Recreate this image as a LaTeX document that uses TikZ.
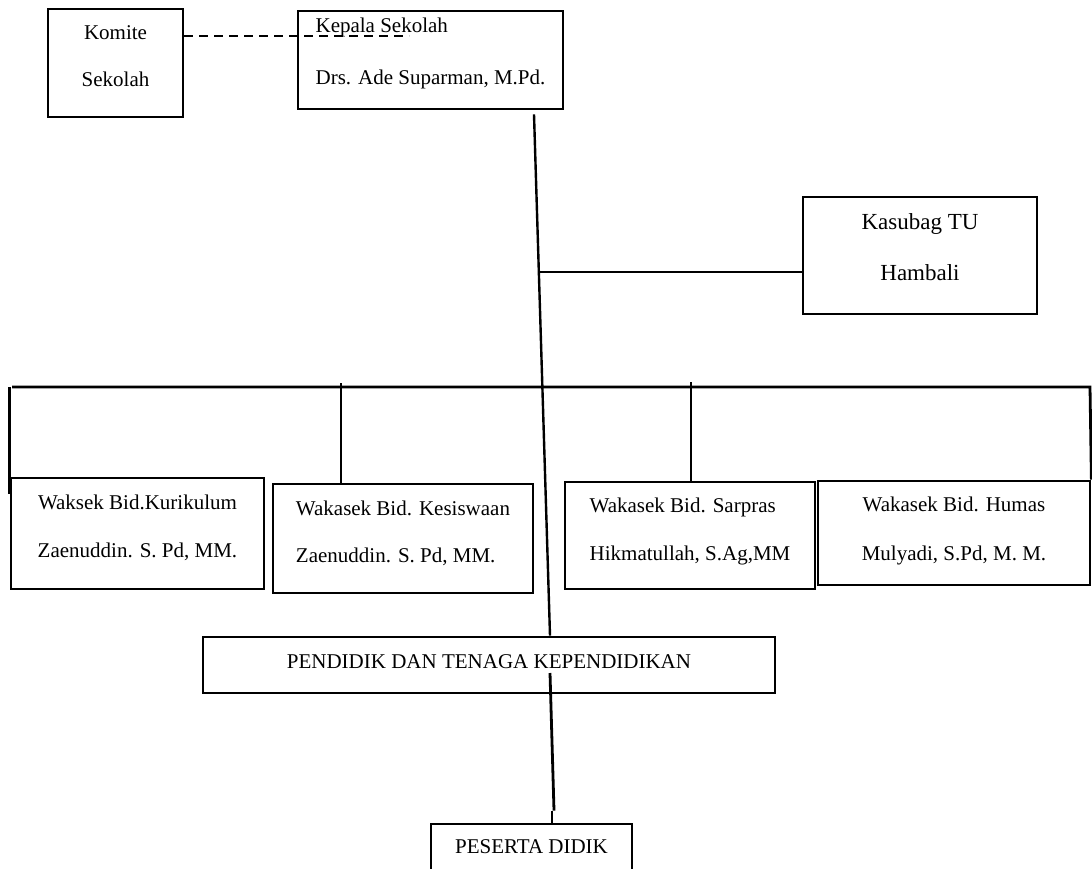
\documentclass[tikz,border=0pt]{standalone}
\usepackage{fontspec}
\setmainfont{Liberation Serif}
\usepackage{tikz}
\usetikzlibrary{calc}

\begin{document}
\begin{tikzpicture}[
  x=1pt, y=-1pt,
  box/.style={draw, line width=2.8pt, inner sep=0pt, align=center,
    font=\fontsize{21}{48}\selectfont, text depth=14pt},
  lbox/.style={box, align=left},
  wide/.style={draw, line width=2.8pt, inner sep=0pt, align=center,
    font=\fontsize{21}{25}\selectfont, text depth=6pt},
  bus/.style={line width=2.8pt},
  drop/.style={line width=2.6pt},
  trunk/.style={line width=2.4pt},
  link/.style={line width=1.7pt},
  dashline/.style={line width=2.2pt, dash pattern=on 9pt off 6pt}
]
  \useasboundingbox (0,0) rectangle (1092,868);

  % top row
  \node[box, minimum width=135, minimum height=108, font=\fontsize{21}{47}\selectfont, text depth=13pt]
    (komite) at (115.5,63) {Komite\\Sekolah};
  \node[lbox, minimum width=265, minimum height=98, font=\fontsize{21}{52}\selectfont, text depth=18pt]
    (kepala) at (430.5,60) {Kepala Sekolah\\Drs. Ade Suparman, M.Pd.};
  \node[box, minimum width=234, minimum height=117, font=\fontsize{23}{51}\selectfont, text depth=16pt]
    (kasubag) at (920,255.5) {Kasubag TU\\Hambali};

  % wakasek row
  \node[box, minimum width=253, minimum height=111] (kurikulum) at (137.5,533.5)
    {Waksek Bid.Kurikulum\\Zaenuddin. S. Pd, MM.};
  \node[lbox, minimum width=260, minimum height=109, font=\fontsize{21}{47}\selectfont]
    (kesiswaan) at (403,538.5) {Wakasek Bid. Kesiswaan\\Zaenuddin. S. Pd, MM.};
  \node[lbox, minimum width=250, minimum height=107, text depth=13pt] (sarpras) at (690,535.5)
    {Wakasek Bid. Sarpras\\Hikmatullah, S.Ag,MM};
  \node[box, minimum width=272, minimum height=104, font=\fontsize{21}{49}\selectfont, text depth=9pt]
    (humas) at (954,533) {Wakasek Bid. Humas\\Mulyadi, S.Pd, M. M.};

  % bottom
  \node[wide, minimum width=572, minimum height=56] (pendidik) at (489,665)
    {PENDIDIK DAN TENAGA KEPENDIDIKAN};
  \node[wide, minimum width=201, minimum height=52] (peserta) at (531.5,850) {PESERTA DIDIK};

  % lines
  \coordinate (busL) at (12,387);
  \coordinate (busR) at (1090,387);
  \draw[dashline] ([yshift=27pt]komite.east) -- ++(225,0);
  \draw[trunk] ([xshift=103.5pt,yshift=-4pt]kepala.south) -- ([xshift=61pt]pendidik.north);
  \draw[link] ([yshift=-16.5pt]kasubag.west) -- ++(-264,0);
  \draw[bus] (busL) -- (busR) -- (humas.north east);
  \draw[drop] (kurikulum.north west |- busL) -- ++(0,107);
  \draw[drop] ([xshift=-62pt]kesiswaan.north) -- ++(0,-100);
  \draw[drop] ([xshift=1pt]sarpras.north) -- ++(0,-99);
  \draw[bus] ([xshift=61pt,yshift=-8pt]pendidik.center) -- ([xshift=22.5pt,yshift=12pt]peserta.north);
  \draw[link] ([xshift=20.5pt,yshift=12pt]peserta.north) -- (peserta.north -| {$(peserta.north)+(20.5,0)$});
\end{tikzpicture}
\end{document}
